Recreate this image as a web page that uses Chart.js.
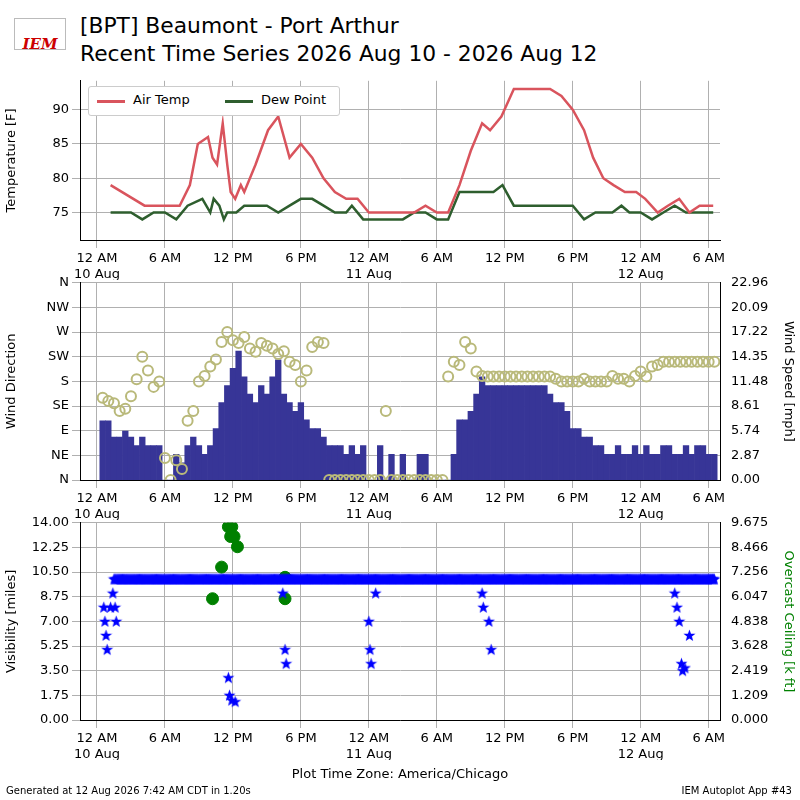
<!DOCTYPE html>
<html><head><meta charset="utf-8">
<script src="https://cdn.jsdelivr.net/npm/chart.js@4"></script>
<style>
body{margin:0;width:800px;height:800px;background:#fff;font-family:"DejaVu Sans",sans-serif;position:relative;overflow:hidden}
canvas{position:absolute;left:0}
.t{position:absolute;color:#000;white-space:nowrap}
</style></head><body>
<div class="t" style="left:80px;top:13px;font-size:21.8px">[BPT] Beaumont - Port Arthur</div>
<div class="t" style="left:80px;top:41px;font-size:21.8px">Recent Time Series 2026 Aug 10 - 2026 Aug 12</div>
<div class="t" style="left:14px;top:18px;width:50px;height:30px;border:1px solid #bbb;color:#c00;font:italic bold 15px 'DejaVu Serif';text-align:center;line-height:50px">IEM</div>
<div class="t" style="left:88px;top:86px;width:250px;height:28px;border:1px solid #ccc;border-radius:3px;background:#fff;z-index:5;font-size:13px">
 <span style="position:absolute;left:8px;top:13px;width:28px;border-top:3px solid #d9545d"></span><span style="position:absolute;left:44px;top:5px">Air Temp</span>
 <span style="position:absolute;left:136px;top:13px;width:28px;border-top:3px solid #2e5e2e"></span><span style="position:absolute;left:172px;top:5px">Dew Point</span>
</div>
<canvas id="c1" width="800" height="210" style="top:70px"></canvas>
<canvas id="c2" width="800" height="248" style="top:272px"></canvas>
<canvas id="c3" width="800" height="248" style="top:512px"></canvas>
<div class="t" style="left:0;width:800px;text-align:center;top:766px;font-size:13px">Plot Time Zone: America/Chicago</div>
<div class="t" style="left:6px;top:785px;font-size:10px">Generated at 12 Aug 2026 7:42 AM CDT in 1.20s</div>
<div class="t" style="right:8px;top:785px;font-size:10px">IEM Autoplot App #43</div>
<script>
// hours since 12 AM 10 Aug
const tempObs = [[1.2,79],[4.2,76],[7.3,76],[8.2,79],[8.9,85],[9.8,86],[10.2,83],[10.6,82],[11.1,88],[11.5,82],[11.8,78],[12.2,77],[12.7,79],[13,78],[14,82],[15.1,87],[16,89],[17,83],[18,85],[19,83],[20,80],[21,78],[22,77],[23,77],[24,75],[28,75],[29,76],[30,75],[31,75],[32,79],[33,84],[34,88],[34.7,87],[35.7,89],[36.8,93],[40,93],[41,92],[42,90],[43,87],[43.8,83],[44.7,80],[45.6,79],[46.6,78],[47.6,78],[48.4,77],[49.5,75],[50.4,76],[51.4,77],[52.3,75],[53.2,76],[54.4,76]];
const dewObs = [[1.2,75],[3,75],[4,74],[5,75],[6,75],[7,74],[8,76],[9.3,77],[10,75],[10.3,77],[10.8,76],[11.2,74],[11.5,75],[12.3,75],[13,76],[15,76],[16,75],[17,76],[18,77],[19,77],[20,76],[21,75],[22,75],[22.5,76],[23.5,74],[27,74],[28,75],[29,75],[30,74],[31,74],[32,78],[35,78],[35.8,79],[36.8,76],[42,76],[43,74],[44,75],[45.5,75],[46.3,76],[47,75],[48,75],[49,74],[50,75],[51,76],[52,75],[54.4,75]];
// wind speed (mph) and direction (deg), half-hourly from 0.5h
const windHours = [];
for (let h = 0.5; h <= 54.5; h += 0.5) windHours.push(h);
const windSpeed = [6.9,6.9,5,5,5.7,5,4,5,4,4,4,0,0,3,2,4,5,4,3,4,6,9,11,13,15,12,10,9,11,10,12,14,10,9,8,9,7,6,6,5,4,4,4,3,4,3,4,0,0,4,0,3,0,3,0,0,3,3,0,0,0,0,3,7,7,8,10,12,11,11,11,11,11,11,11,11,11,11,11,10,9,9,8,6,6,5,5,4,4,3,3,4,3,3,4,3,4,3,3,4,4,3,3,4,3,4,4,3,3];
const windDir = [150,144,140,126,130,153,184,225,200,170,180,40,0,36,20,108,126,180,190,207,220,252,270,255,250,261,240,234,250,245,240,230,235,216,210,180,200,243,252,250,0,0,0,0,0,0,0,0,0,0,126,0,0,0,0,0,0,0,0,0,0,189,216,210,252,240,198,190,189,189,189,189,189,189,189,189,189,189,189,189,185,180,180,180,180,185,180,180,180,180,190,185,185,180,190,198,189,207,210,216,216,216,216,216,216,216,216,216,216];
// visibility: steady segment (miles) reported every 5 min, plus low readings
const visSegments = [[1.5,54.5,10]];
const visLow = [[0.6,8],[0.7,7],[0.8,6],[0.9,5],[1.2,8],[1.4,9],[1.6,8],[1.7,7],[11.6,3],[11.7,1.75],[11.9,1.4],[12.2,1.3],[16.4,9],[16.6,5],[16.7,4],[24,7],[24.1,5],[24.2,4],[24.6,9],[34,9],[34.1,8],[34.6,7],[34.8,5],[51,9],[51.2,8],[51.4,7],[51.6,4],[51.7,3.5],[51.9,3.7],[52.3,6]];
const ceilObs = [[10.2,5.95],[11,7.5],[11.6,9.48],[11.9,9.48],[11.8,9.0],[12.1,9.0],[12.4,8.5],[16.6,7.0],[16.6,5.95]];

const visObs = [];
visSegments.forEach(([a,b,v]) => { for (let t = a; t <= b + 1e-6; t += 1/12) visObs.push({x:t,y:v}); });
visLow.forEach(([x,y]) => visObs.push({x,y}));

// filled star marker
const star = document.createElement('canvas');
star.width = star.height = 13;
{
  const g = star.getContext('2d');
  g.fillStyle = '#0000ff';
  g.beginPath();
  for (let i = 0; i < 10; i++) {
    const r = i % 2 ? 2.6 : 6.3, a = -Math.PI / 2 + i * Math.PI / 5;
    g.lineTo(6.5 + r * Math.cos(a), 6.8 + r * Math.sin(a));
  }
  g.closePath(); g.fill();
}

const font = {family:'DejaVu Sans', size:13};
Chart.defaults.font = font;
Chart.defaults.color = '#000';
Chart.defaults.animation = false;

function xAxis() {
  return {type:'linear', min:-1.5, max:55, offset:false, grid:{color:'#b0b0b0', offset:false}, border:{color:'#000'},
    afterBuildTicks: a => { a.ticks = []; for (let v = 0; v <= 54; v += 6) a.ticks.push({value:v}); },
    afterFit: a => { a.height = 40; },
    ticks:{maxRotation:0, autoSkip:false, callback: v => {
      const h = ((v % 24) + 24) % 24;
      const lab = h === 0 ? '12 AM' : h === 12 ? '12 PM' : (h < 12 ? h + ' AM' : (h - 12) + ' PM');
      if (h === 0) return [lab, (10 + v / 24) + ' Aug'];
      return lab;
    }}};
}
function yAxis(pos, opts) {
  return Object.assign({position:pos, grid:{color:'#b0b0b0', display: pos === 'left'}, border:{color:'#000'},
    afterFit: a => { a.width = 80; }}, opts);
}
const pts = arr => arr.map(([x,y]) => ({x,y}));

new Chart(document.getElementById('c1'), {
  type:'line',
  data:{datasets:[
    {label:'Air Temp', data:pts(tempObs), borderColor:'#d9545d', borderWidth:2.5, pointRadius:0},
    {label:'Dew Point', data:pts(dewObs), borderColor:'#2e5e2e', borderWidth:2.5, pointRadius:0}
  ]},
  options:{responsive:false, layout:{padding:{right:80, top:0}},
    plugins:{legend:{display:false}},
    scales:{x:xAxis(), y:yAxis('left', {min:71, max:94.2,
      afterBuildTicks: a => { a.ticks = [75,80,85,90].map(v => ({value:v})); },
      title:{display:true, text:'Temperature [F]', font}})}}
});

const dirLabels = ['N','NE','E','SE','S','SW','W','NW','N'];
new Chart(document.getElementById('c2'), {
  data:{datasets:[
    {type:'bar', data:windHours.map((x,i) => ({x, y:windSpeed[i]})), backgroundColor:'#373597', yAxisID:'y2', barPercentage:1, categoryPercentage:1, order:2},
    {type:'scatter', data:windHours.map((x,i) => ({x, y:windDir[i]})), pointRadius:5, borderWidth:2, borderColor:'#b9b97a', backgroundColor:'rgba(0,0,0,0)', yAxisID:'y', order:1}
  ]},
  options:{responsive:false, plugins:{legend:{display:false}},
    scales:{x:xAxis(),
      y:yAxis('left', {min:0, max:360, ticks:{stepSize:45, callback: v => dirLabels[Math.round(v/45)]},
        title:{display:true, text:'Wind Direction', font}}),
      y2:yAxis('right', {min:0, max:22.96, afterBuildTicks: a => { a.ticks = []; for (let i = 0; i <= 8; i++) a.ticks.push({value:i*2.87}); },
        ticks:{callback: v => v.toFixed(2)}, title:{display:true, text:'Wind Speed [mph]', font}})}}
});

new Chart(document.getElementById('c3'), {
  type:'scatter',
  data:{datasets:[
    {data:visObs, pointStyle:star, yAxisID:'y'},
    {data:pts(ceilObs), pointRadius:6, backgroundColor:'#008000', borderColor:'#008000', yAxisID:'y2'}
  ]},
  options:{responsive:false, plugins:{legend:{display:false}},
    scales:{x:xAxis(),
      y:yAxis('left', {min:0, max:14, afterBuildTicks: a => { a.ticks = []; for (let i = 0; i <= 8; i++) a.ticks.push({value:i*1.75}); },
        ticks:{callback: v => v.toFixed(2)}, title:{display:true, text:'Visibility [miles]', font}}),
      y2:yAxis('right', {min:0, max:9.675, afterBuildTicks: a => { a.ticks = []; for (let i = 0; i <= 8; i++) a.ticks.push({value:i*1.209375}); },
        ticks:{callback: v => v.toFixed(3)}, title:{display:true, text:'Overcast Ceiling [k ft]', color:'#008000', font}})}}
});
</script></body></html>
